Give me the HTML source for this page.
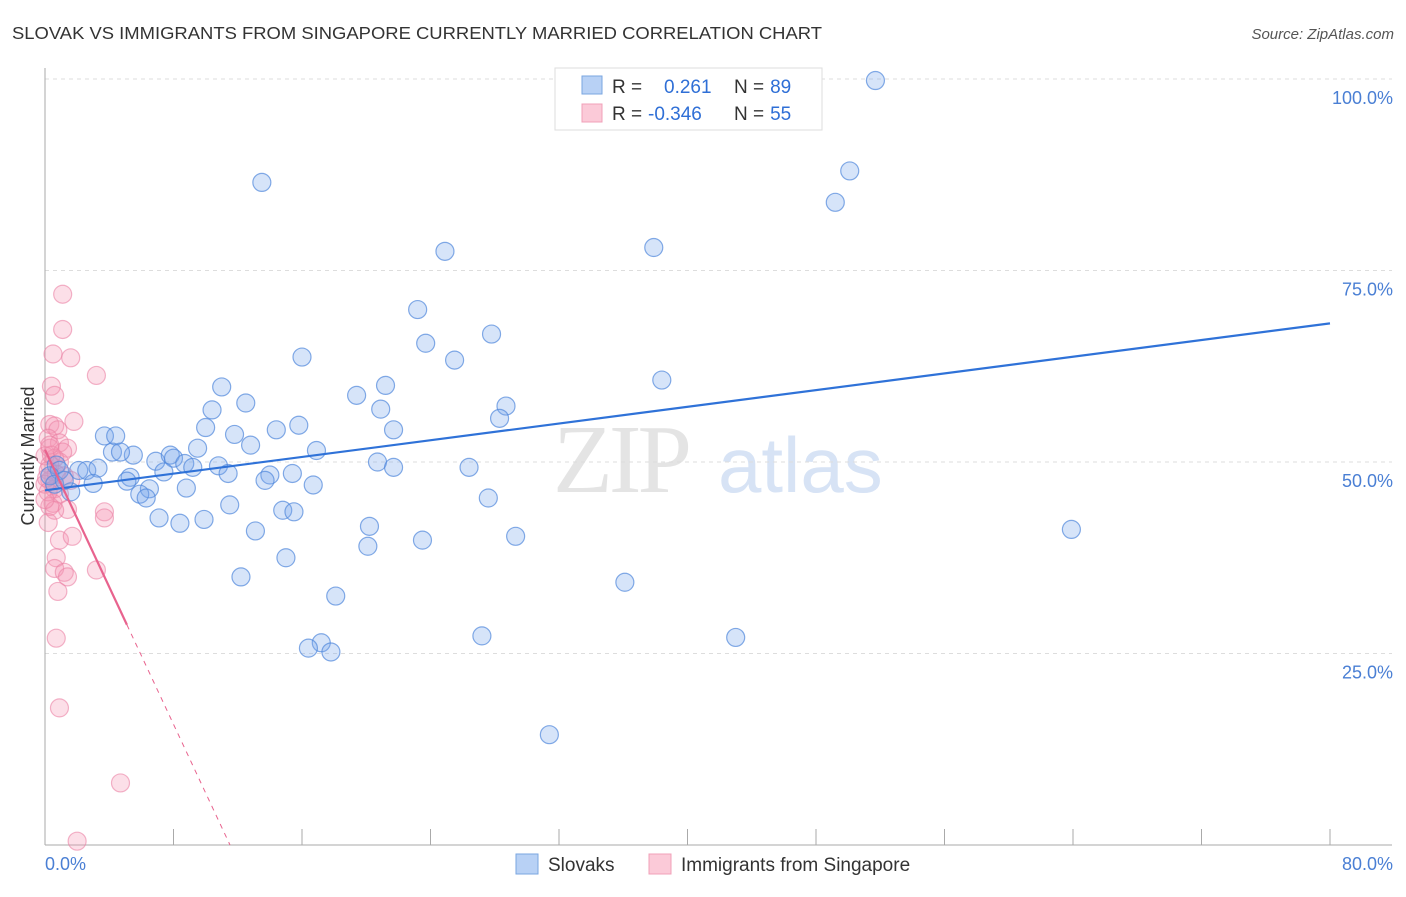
<!DOCTYPE html>
<html><head><meta charset="utf-8"><style>
body{margin:0;background:#fff;font-family:"Liberation Sans",sans-serif;}
</style></head><body>
<svg id="chart" width="1406" height="892" xmlns="http://www.w3.org/2000/svg">
<text x="12" y="39" font-size="17.5" fill="#333" textLength="810" lengthAdjust="spacingAndGlyphs">SLOVAK VS IMMIGRANTS FROM SINGAPORE CURRENTLY MARRIED CORRELATION CHART</text>
<text x="1394" y="39" font-size="15" fill="#555" font-style="italic" text-anchor="end">Source: ZipAtlas.com</text>
<g>
<text x="553" y="492" font-size="98" font-family="Liberation Serif" fill="#e4e4e4" letter-spacing="-4">ZIP</text>
<text x="718" y="492" font-size="78" fill="#d7e3f5">atlas</text>
</g>
<g id="grid"></g>
<g id="axes"></g>
<text transform="translate(34,456) rotate(-90)" font-size="18" fill="#333" text-anchor="middle">Currently Married</text>
<g id="marks"></g>
<g>
<rect x="555" y="68" width="267" height="62" fill="#fff" stroke="#ddd"/>
<rect x="582" y="76" width="20" height="18" fill="#b8d1f5" stroke="#7aa6e0"/>
<rect x="582" y="104" width="20" height="18" fill="#fbcad8" stroke="#f0a0b8"/>
<text x="612" y="93" font-size="19" fill="#333">R = <tspan x="664" fill="#2f6fd6">0.261</tspan><tspan x="734">N =</tspan><tspan fill="#2f6fd6" dx="6">89</tspan></text>
<text x="612" y="120" font-size="19" fill="#333">R = <tspan x="648" fill="#2f6fd6">-0.346</tspan><tspan x="734">N =</tspan><tspan fill="#2f6fd6" dx="6">55</tspan></text>
</g>
<g>
<rect x="516" y="854" width="22" height="20" fill="#b8d1f5" stroke="#7aa6e0"/>
<text x="548" y="871" font-size="19" fill="#333">Slovaks</text>
<rect x="649" y="854" width="22" height="20" fill="#fbcad8" stroke="#f0a0b8"/>
<text x="681" y="871" font-size="19" fill="#333">Immigrants from Singapore</text>
</g>
</svg>
<script>
const blueX=[51.7,13.5,50.1,49.2,24.9,37.9,23.2,27.8,23.7,16.0,25.5,38.4,11.0,21.2,19.4,12.5,10.4,28.7,20.9,28.3,10.0,15.8,21.7,3.7,4.4,11.8,14.4,12.8,9.5,16.9,5.5,4.2,4.7,6.9,7.8,8.0,8.7,9.2,10.8,20.7,21.7,26.4,2.1,2.6,3.3,7.4,11.4,14.0,15.4,5.3,13.7,5.1,3.0,16.7,8.8,6.5,5.9,6.3,1.6,27.6,11.5,14.8,15.5,7.1,8.4,9.9,20.2,13.1,29.3,23.5,20.1,63.9,15.0,12.2,36.1,18.1,27.2,43.0,17.2,16.4,17.8,31.4,0.7,0.9,0.3,0.6,1.2];
const blueY=[99.8,86.5,88.0,83.9,77.5,78.0,69.9,66.7,65.5,63.7,63.3,60.7,59.8,60.0,58.7,57.7,56.8,57.3,56.9,55.7,54.5,54.8,54.2,53.4,53.4,53.6,54.2,52.2,51.8,51.5,50.9,51.3,51.3,50.1,50.9,50.5,49.8,49.3,49.5,50.0,49.3,49.3,48.9,48.9,49.2,48.7,48.5,48.3,48.5,48.0,47.6,47.5,47.2,47.0,46.6,46.5,45.8,45.3,46.1,45.3,44.4,43.7,43.5,42.7,42.0,42.5,41.6,41.0,40.3,39.8,39.0,41.2,37.5,35.0,34.3,32.5,27.3,27.1,26.4,25.7,25.2,14.4,49.6,48.9,48.2,47.1,47.6];
const pinkX=[1.1,1.1,0.5,1.6,3.2,0.4,0.6,1.8,0.3,0.6,0.8,0.2,0.9,1.4,0.3,0.0,0.6,0.9,0.3,0.2,0.7,1.2,0.3,0.0,0.6,0.9,0.5,1.4,0.3,3.7,3.7,0.2,0.9,1.7,0.7,0.6,1.2,1.4,3.2,0.8,0.7,0.9,4.7,2.0,0.1,0.4,1.1,0.2,0.6,1.6,0.0,0.3];
const pinkY=[71.9,67.3,64.1,63.6,61.3,59.9,58.7,55.3,54.9,54.7,54.2,53.1,52.5,51.8,51.8,50.8,50.5,50.0,49.6,48.9,48.4,48.2,47.6,47.1,46.5,45.8,44.6,43.8,44.2,43.5,42.7,42.1,39.8,40.3,37.5,36.1,35.6,35.0,35.9,33.1,27.0,17.9,8.1,0.5,47.9,50.9,51.3,46.1,43.7,47.6,45.1,52.2];
const yTicks=[25,50,75,100];
const blueTrend=[46.3,68.1]; // y at x=0 and x=80
const pinkTrend=[51.6,-4.48]; // intercept, slope
const NS="http://www.w3.org/2000/svg";
const X=v=>45+v*16.0625, Y=v=>845-v*7.66;
function mk(t,a,p){const e=document.createElementNS(NS,t);for(const k in a)e.setAttribute(k,a[k]);p.appendChild(e);return e;}
const grid=document.getElementById('grid'),axes=document.getElementById('axes'),marks=document.getElementById('marks');
yTicks.forEach(t=>{
 const l=mk('line',{x1:45,x2:1392,y1:Y(t),y2:Y(t),stroke:'#ddd','stroke-dasharray':'4,4'},grid);
 
 
 const tx=mk('text',{x:1393,y:Y(t)+25,'font-size':18,fill:'#4a7fd4','text-anchor':'end'},axes);
 tx.textContent=t.toFixed(1)+'%';
 
 
});
mk('line',{x1:45,x2:45,y1:68,y2:845,stroke:'#aaa'},axes);
mk('line',{x1:45,x2:1392,y1:845,y2:845,stroke:'#aaa'},axes);
for(let i=1;i<=10;i++){mk('line',{x1:X(i*8),x2:X(i*8),y1:829,y2:845,stroke:'#aaa'},axes);}
const x0=mk('text',{x:45,y:870,'font-size':18,fill:'#4a7fd4'},axes);x0.textContent='0.0%';


const x1=mk('text',{x:1393,y:870,'font-size':18,fill:'#4a7fd4','text-anchor':'end'},axes);x1.textContent='80.0%';


pinkX.forEach((v,i)=>{
 const c=mk('circle',{cx:X(v),cy:Y(pinkY[i]),r:9,fill:'rgba(245,150,180,0.3)',stroke:'rgba(235,130,165,0.6)','stroke-width':1.2},marks);
 
 
});
blueX.forEach((v,i)=>{
 const c=mk('circle',{cx:X(v),cy:Y(blueY[i]),r:9,fill:'rgba(120,165,235,0.3)',stroke:'rgba(80,135,220,0.7)','stroke-width':1.2},marks);
 
 
});
const bl=mk('line',{x1:X(0),y1:Y(blueTrend[0]),x2:X(80),y2:Y(blueTrend[1]),stroke:'#2f72d8','stroke-width':2.2},marks);


const pe=5.1, pz=-pinkTrend[0]/pinkTrend[1];
const pl=mk('line',{x1:X(0),y1:Y(pinkTrend[0]),x2:X(pe),y2:Y(pinkTrend[0]+pinkTrend[1]*pe),stroke:'#e8638e','stroke-width':2.2},marks);


const pd=mk('line',{x1:X(pe),y1:Y(pinkTrend[0]+pinkTrend[1]*pe),x2:X(pz),y2:Y(0),stroke:'#e8638e','stroke-width':1,'stroke-dasharray':'5,5'},marks);


</script>
</body></html>
